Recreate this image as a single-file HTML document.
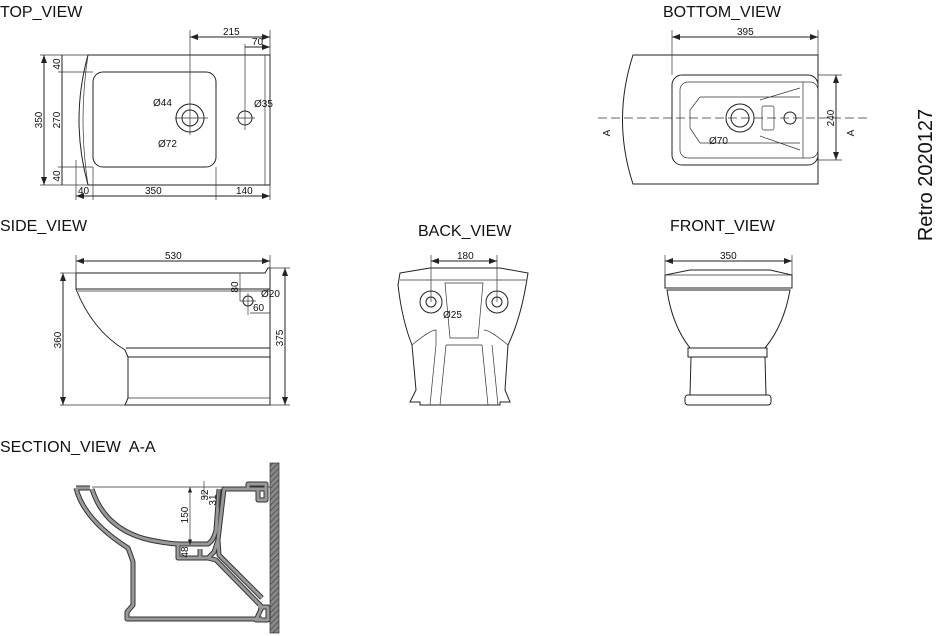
<!DOCTYPE html>
<html><head><meta charset="utf-8"><style>
body{margin:0;background:#fff}
svg{display:block}
text{font-family:"Liberation Sans",sans-serif;fill:#111}
.t{font-size:16px}
.d{font-size:10px}
.l{fill:none;stroke:#222;stroke-width:1}
.th{fill:none;stroke:#333;stroke-width:0.7}
.c{stroke:#333;stroke-width:0.7;stroke-dasharray:9 4;fill:none}
.s1{fill:none;stroke:#333;stroke-width:5;stroke-linejoin:round}
.s2{fill:none;stroke:#999;stroke-width:3;stroke-linejoin:round}
</style></head><body>
<svg width="936" height="636" viewBox="0 0 936 636" xmlns="http://www.w3.org/2000/svg">
<defs>
<marker id="a" markerWidth="8" markerHeight="6" refX="8" refY="3" orient="auto-start-reverse"><path d="M0,0 L8,3 L0,6 z" fill="#222"/></marker>
<pattern id="h" width="4" height="4" patternUnits="userSpaceOnUse" patternTransform="rotate(45)"><rect width="4" height="4" fill="#888"/><line x1="0" y1="0" x2="0" y2="4" stroke="#444" stroke-width="1.5"/></pattern>
<path id="sec" d="M92,489 Q105,530 150,540 Q170,544 180,544 H208 Q214,540 216,530 L219,489 M76,488 H90 M76,488 Q84,520 128,548 L131,556 L133,562 V605 L127,612 L127,619 H262 M178,544 V558 H200 V549 M200,558 H208 L214,552 L218,540 L224,489 H266 M248,489 V484 H266 V500 H258 V489 M208,558 L216,560 L262,607 M218,540 L219,555 L262,598 M258,607 H268 V620 H256 L262,607"/>
</defs>
<!-- titles -->
<text class="t" x="0" y="17">TOP_VIEW</text>
<text class="t" x="663" y="17">BOTTOM_VIEW</text>
<text class="t" x="0" y="231">SIDE_VIEW</text>
<text class="t" x="418" y="236">BACK_VIEW</text>
<text class="t" x="670" y="231">FRONT_VIEW</text>
<text class="t" x="0" y="452">SECTION_VIEW&#160; A-A</text>
<text x="932" y="175" transform="rotate(-90 932 175)" text-anchor="middle" style="font-size:20px">Retro 2020127</text>

<!-- TOP VIEW -->
<path class="l" d="M88,55 H270 V185 H88 Q70,120 88,55 Z"/>
<path class="th" d="M88,55 Q78,120 88,185"/>
<rect class="l" x="93" y="72" width="123" height="95" rx="10"/>
<line class="th" x1="265" y1="55" x2="265" y2="185"/>
<circle class="l" cx="190" cy="118" r="14"/><circle class="l" cx="190" cy="118" r="8"/>
<line class="th" x1="175" y1="118" x2="208" y2="118"/><line class="th" x1="190" y1="30" x2="190" y2="135"/>
<circle class="l" cx="245" cy="118" r="7"/>
<line class="th" x1="236" y1="118" x2="255" y2="118"/><line class="th" x1="245" y1="44" x2="245" y2="130"/>
<line class="th" x1="270" y1="30" x2="270" y2="200"/>
<line class="l" x1="190" y1="37" x2="270" y2="37" marker-start="url(#a)" marker-end="url(#a)"/><text class="d" x="223" y="35">215</text>
<line class="l" x1="245" y1="47" x2="270" y2="47" marker-end="url(#a)"/><text class="d" x="252" y="45">70</text>
<line class="th" x1="40" y1="55" x2="88" y2="55"/><line class="th" x1="40" y1="185" x2="88" y2="185"/>
<line class="th" x1="58" y1="72" x2="93" y2="72"/><line class="th" x1="58" y1="167" x2="93" y2="167"/>
<line class="l" x1="44" y1="55" x2="44" y2="185" marker-start="url(#a)" marker-end="url(#a)"/>
<line class="l" x1="62" y1="55" x2="62" y2="185"/>
<text class="d" x="42" y="120" transform="rotate(-90 42 120)" text-anchor="middle">350</text>
<text class="d" x="60" y="120" transform="rotate(-90 60 120)" text-anchor="middle">270</text>
<text class="d" x="60" y="64" transform="rotate(-90 60 64)" text-anchor="middle">40</text>
<text class="d" x="60" y="176" transform="rotate(-90 60 176)" text-anchor="middle">40</text>
<line class="th" x1="76" y1="160" x2="76" y2="200"/><line class="th" x1="93" y1="167" x2="93" y2="200"/><line class="th" x1="216" y1="167" x2="216" y2="200"/>
<line class="l" x1="76" y1="196" x2="270" y2="196" marker-start="url(#a)" marker-end="url(#a)"/>
<text class="d" x="78" y="194">40</text><text class="d" x="145" y="194">350</text><text class="d" x="236" y="194">140</text>
<text class="d" x="153" y="106">Ø44</text><text class="d" x="158" y="147">Ø72</text><text class="d" x="254" y="107">Ø35</text>

<!-- BOTTOM VIEW -->
<path class="l" d="M633,55 H818 V184 H633 Q612,120 633,55 Z"/>
<rect class="l" x="672" y="75" width="146" height="90" rx="10"/>
<rect class="th" x="680" y="82" width="138" height="76" rx="8"/>
<path class="th" d="M700,97 H800 M700,143 H800 M700,97 L690,110 V128 L700,143 M760,100 L800,88 M760,136 L800,150 M803,82 V158"/>
<circle class="l" cx="740" cy="118" r="14"/><circle class="l" cx="740" cy="118" r="9"/>
<rect class="th" x="762" y="106" width="12" height="24" rx="2"/>
<circle class="l" cx="790" cy="118" r="6"/>
<line class="c" x1="598" y1="118" x2="870" y2="118"/>
<line class="th" x1="672" y1="30" x2="672" y2="75"/><line class="th" x1="818" y1="30" x2="818" y2="55"/>
<line class="l" x1="672" y1="37" x2="818" y2="37" marker-start="url(#a)" marker-end="url(#a)"/><text class="d" x="737" y="35">395</text>
<line class="th" x1="818" y1="75" x2="842" y2="75"/><line class="th" x1="818" y1="160" x2="842" y2="160"/>
<line class="l" x1="836" y1="75" x2="836" y2="160" marker-start="url(#a)" marker-end="url(#a)"/>
<text class="d" x="834" y="118" transform="rotate(-90 834 118)" text-anchor="middle">240</text>
<text class="d" x="610" y="133" transform="rotate(-90 610 133)" text-anchor="middle">A</text>
<text class="d" x="854" y="133" transform="rotate(-90 854 133)" text-anchor="middle">A</text>
<text class="d" x="709" y="144">Ø70</text>

<!-- SIDE VIEW -->
<path class="l" d="M76,273 H265 L268,268 H270 V405 H125 L128,398 V357 L125,350 Q92,330 76,289 Z"/>
<line class="l" x1="76" y1="289" x2="270" y2="289"/><line class="th" x1="78" y1="291" x2="270" y2="291"/>
<line class="l" x1="126" y1="348" x2="270" y2="348"/><line class="l" x1="128" y1="357" x2="270" y2="357"/>
<line class="th" x1="128" y1="398" x2="270" y2="398"/>
<line class="th" x1="76" y1="255" x2="76" y2="273"/><line class="th" x1="270" y1="255" x2="270" y2="268"/>
<line class="l" x1="76" y1="261" x2="270" y2="261" marker-start="url(#a)" marker-end="url(#a)"/><text class="d" x="165" y="259">530</text>
<line class="th" x1="60" y1="273" x2="76" y2="273"/><line class="th" x1="60" y1="405" x2="125" y2="405"/>
<line class="l" x1="63" y1="273" x2="63" y2="405" marker-start="url(#a)" marker-end="url(#a)"/>
<text class="d" x="61" y="340" transform="rotate(-90 61 340)" text-anchor="middle">360</text>
<line class="th" x1="270" y1="268" x2="290" y2="268"/><line class="th" x1="270" y1="405" x2="290" y2="405"/>
<line class="l" x1="285" y1="268" x2="285" y2="405" marker-start="url(#a)" marker-end="url(#a)"/>
<text class="d" x="283" y="338" transform="rotate(-90 283 338)" text-anchor="middle">375</text>
<circle class="l" cx="248" cy="301" r="5"/><line class="th" x1="240" y1="301" x2="256" y2="301"/><line class="th" x1="248" y1="293" x2="248" y2="315"/>
<line class="th" x1="240" y1="273" x2="240" y2="301"/>
<text class="d" x="238" y="287" transform="rotate(-90 238 287)" text-anchor="middle">80</text>
<line class="th" x1="250" y1="313" x2="270" y2="313"/><text class="d" x="253" y="311">60</text>
<text class="d" x="261" y="297">Ø20</text>

<!-- BACK VIEW -->
<path class="l" d="M400,273 L430,268 H500 L528,273 L526,285 Q520,320 508,345 L505,390 L510,402 H500 V405 H420 V402 L410,402 L416,390 L412,345 Q402,320 398,285 Z"/>
<line class="th" x1="400" y1="280" x2="526" y2="280"/>
<path class="th" d="M445,283 H483 L478,338 H450 Z"/>
<path class="th" d="M446,345 H482 L488,405 M446,345 L440,405 M436,345 L430,405 M492,345 L498,405"/>
<path class="th" d="M412,345 Q430,330 436,330 V345 M508,345 Q490,330 484,330"/>
<circle class="l" cx="431" cy="302" r="11"/><circle class="l" cx="431" cy="302" r="5"/>
<circle class="l" cx="497" cy="302" r="11"/><circle class="l" cx="497" cy="302" r="5"/>
<line class="th" x1="431" y1="255" x2="431" y2="302"/><line class="th" x1="497" y1="255" x2="497" y2="302"/>
<line class="l" x1="431" y1="261" x2="497" y2="261" marker-start="url(#a)" marker-end="url(#a)"/><text class="d" x="457" y="259">180</text>
<text class="d" x="443" y="318">Ø25</text>

<!-- FRONT VIEW -->
<path class="l" d="M665,288 V275 L690,270 H770 L792,275 V288 Z"/>
<line class="th" x1="665" y1="275" x2="792" y2="275"/>
<path class="l" d="M667,290 H790 Q784,325 765,348 H690 Q672,325 667,290 Z"/>
<rect class="l" x="688" y="348" width="79" height="9"/>
<path class="l" d="M691,357 L690,395 H766 L765,357"/>
<rect class="l" x="685" y="395" width="86" height="10" rx="3"/>
<line class="th" x1="665" y1="255" x2="665" y2="275"/><line class="th" x1="792" y1="255" x2="792" y2="275"/>
<line class="l" x1="665" y1="261" x2="792" y2="261" marker-start="url(#a)" marker-end="url(#a)"/><text class="d" x="720" y="259">350</text>

<!-- SECTION VIEW -->
<rect x="270" y="463" width="9" height="170" fill="url(#h)" stroke="#333" stroke-width="0.7"/>
<line class="th" x1="92" y1="487" x2="270" y2="487"/>
<use href="#sec" class="s1"/>
<use href="#sec" class="s2"/>
<line class="th" x1="190" y1="487" x2="190" y2="545" marker-start="url(#a)" marker-end="url(#a)"/>
<text class="d" x="188" y="515" transform="rotate(-90 188 515)" text-anchor="middle">150</text>
<text class="d" x="188" y="552" transform="rotate(-90 188 552)" text-anchor="middle">48</text>
<text class="d" x="208" y="495" transform="rotate(-90 208 495)" text-anchor="middle">32</text>
<text class="d" x="216" y="500" transform="rotate(-90 216 500)" text-anchor="middle">31</text>
<line class="th" x1="204" y1="481" x2="204" y2="500"/><line class="th" x1="219" y1="490" x2="219" y2="508"/>
</svg>
</body></html>
